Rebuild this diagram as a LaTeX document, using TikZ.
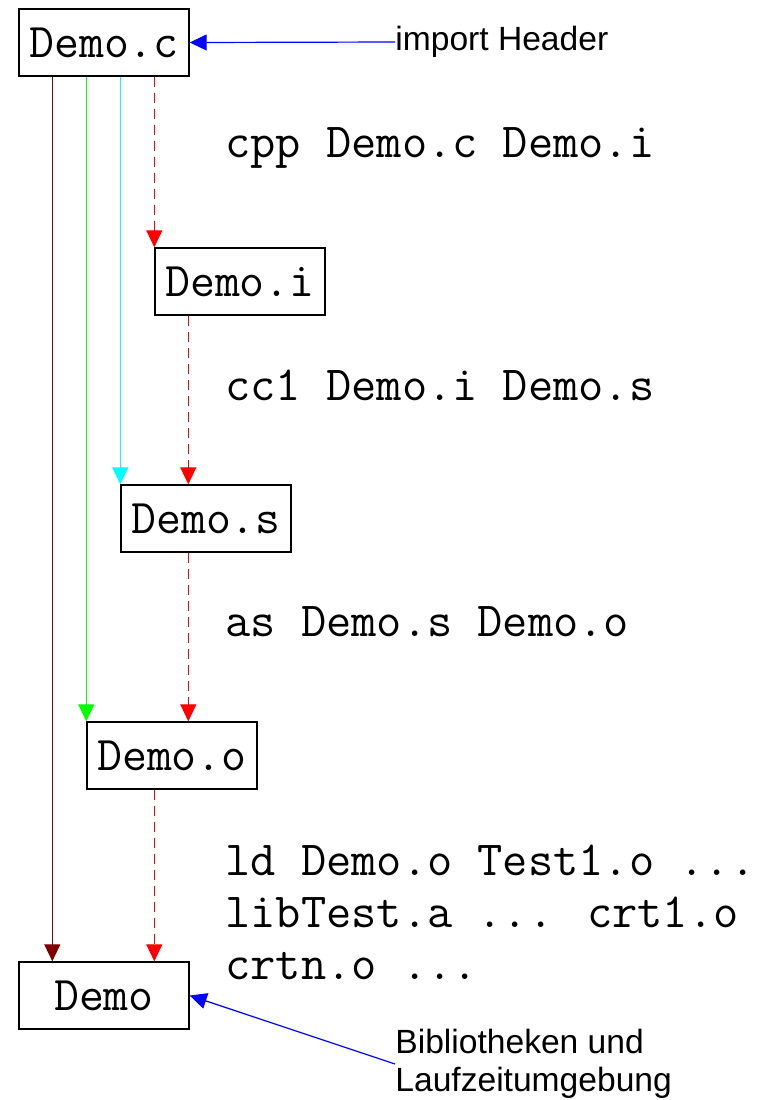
\documentclass[tikz,border=0pt]{standalone}
\usepackage{fontspec}
\setmainfont{Liberation Sans}
\usetikzlibrary{arrows.meta,calc}
\definecolor{dred}{RGB}{128,0,0}
\definecolor{lgreen}{RGB}{0,255,0}
\definecolor{lcyan}{RGB}{0,255,255}
\begin{document}
\begin{tikzpicture}[x=0.5pt,y=-0.5pt,
  filebox/.style={draw,line width=0.7pt,minimum width=85pt,minimum height=33.5pt,inner sep=0pt,font=\ttfamily\fontsize{24.2}{26}\selectfont},
  cmd/.style={anchor=west,inner sep=0pt,align=left,font=\ttfamily\fontsize{24.5}{26}\selectfont},
  note/.style={anchor=west,inner sep=0pt,align=left,font=\fontsize{16.8}{19}\selectfont},
  conn/.style={line width=0.6pt,-{Triangle[length=8.5pt,width=8pt]}},
  flow/.style={conn,red,dash pattern=on 5pt off 3pt}]
\useasboundingbox (0,0) rectangle (769,1100);
\node[filebox] (c) at (104,42.5) {Demo.c};
\node[filebox] (i) at (240,281.5) {Demo.i};
\node[filebox] (s) at (206,518.5) {Demo.s};
\node[filebox] (o) at (172,755.5) {Demo.o};
\node[filebox] (d) at (104,995.5) {Demo};
\node[note] (hdr) at (395,42) {import Header};
\node[note] (lib) at (395,1064) {Bibliotheken und\\Laufzeitumgebung};
\node[cmd] (t1) at (225,148) {cpp Demo.c Demo.i};
\node[cmd] (t2) at (225,385) {cc1 Demo.i Demo.s};
\node[cmd] (t3) at (225,622) {as Demo.s Demo.o};
\node[cmd] (t4) at (225,912) {ld Demo.o Test1.o ...\\libTest.a ... crt1.o\\crtn.o ...};
\draw[conn,blue] (hdr.west) -- (c.east);
\draw[conn,blue] (lib.west) -- (d.east);
\draw[conn,dred] ([xshift=17pt]c.south west) -- ([xshift=17pt]d.north west);
\draw[conn,lgreen] (c.south -| o.north west) -- (o.north west);
\draw[conn,lcyan] (c.south -| s.north west) -- (s.north west);
\draw[flow] (c.south -| i.north west) -- (i.north west);
\draw[flow] ([xshift=17pt]i.south west) -- ([xshift=17pt]i.south west |- s.north);
\draw[flow] ([xshift=34pt]s.south west) -- ([xshift=34pt]s.south west |- o.north);
\draw[flow] ([xshift=34pt]o.south west) -- ([xshift=34pt]o.south west |- d.north);
\end{tikzpicture}
\end{document}
